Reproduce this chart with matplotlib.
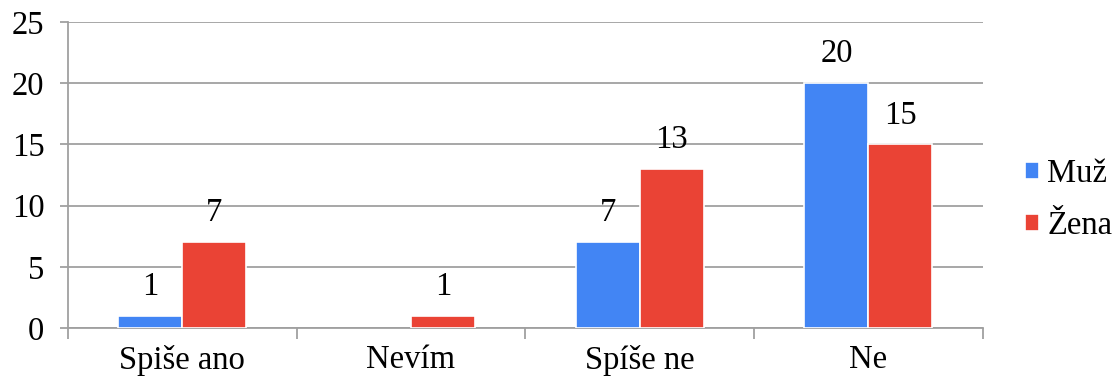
import matplotlib.pyplot as plt
import numpy as np

# survey answers split by gender
categories = ['Spiše ano', 'Nevím', 'Spíše ne', 'Ne']
muz = [1, 0, 7, 20]
zena = [7, 1, 13, 15]
series_names = ['Muž', 'Žena']
colors = ['#4285F4', '#EA4335']

plt.rcParams['font.family'] = ['Liberation Serif', 'DejaVu Serif']
FS = 23.5

fig = plt.figure(figsize=(11.13, 3.8), dpi=100)
ax = fig.add_axes([0.061, 0.137, 0.822, 0.805])

x = np.arange(len(categories))
width = 0.28
for values, name, color, shift in zip([muz, zena], series_names, colors, [-0.5, 0.5]):
    values = np.asarray(values)
    xs = x + shift * width
    keep = values > 0  # empty answers get no bar and no label
    ax.bar(xs[keep], values[keep], width=width, color=color, edgecolor='white',
           linewidth=1.2, label=name, zorder=3)
    for xi, v in zip(xs[keep], values[keep]):
        ax.annotate(str(v), (xi, v), xytext=(0, 10), textcoords='offset points',
                    ha='center', va='bottom', fontsize=FS)

ax.set_xlim(-0.5, len(categories) - 0.5)
ax.set_ylim(0, 25)
ax.set_yticks(range(0, 26, 5))
ax.yaxis.grid(True, color='#a0a0a0', linewidth=1.3, zorder=0)
ax.set_axisbelow(True)

ax.set_xticks(x)
ax.set_xticklabels(categories)
ax.set_xticks(np.arange(-0.5, len(categories), 1), minor=True)
ax.tick_params(axis='x', which='major', length=0, pad=12, labelsize=FS)
ax.tick_params(axis='x', which='minor', length=8, color='#a0a0a0', width=1.3)
ax.tick_params(axis='y', length=6, color='#a0a0a0', width=1.3, pad=11, labelsize=FS)

for side in ['top', 'right']:
    ax.spines[side].set_visible(False)
for side in ['left', 'bottom']:
    ax.spines[side].set_color('#a0a0a0')
    ax.spines[side].set_linewidth(1.3)

ax.legend(loc='center left', bbox_to_anchor=(0.921, 0.474), bbox_transform=fig.transFigure,
          frameon=False, fontsize=FS, borderpad=0, borderaxespad=0,
          handlelength=0.43, handleheight=0.43, handletextpad=0.25, labelspacing=0.68)

fig.savefig('out.png', dpi=100)
